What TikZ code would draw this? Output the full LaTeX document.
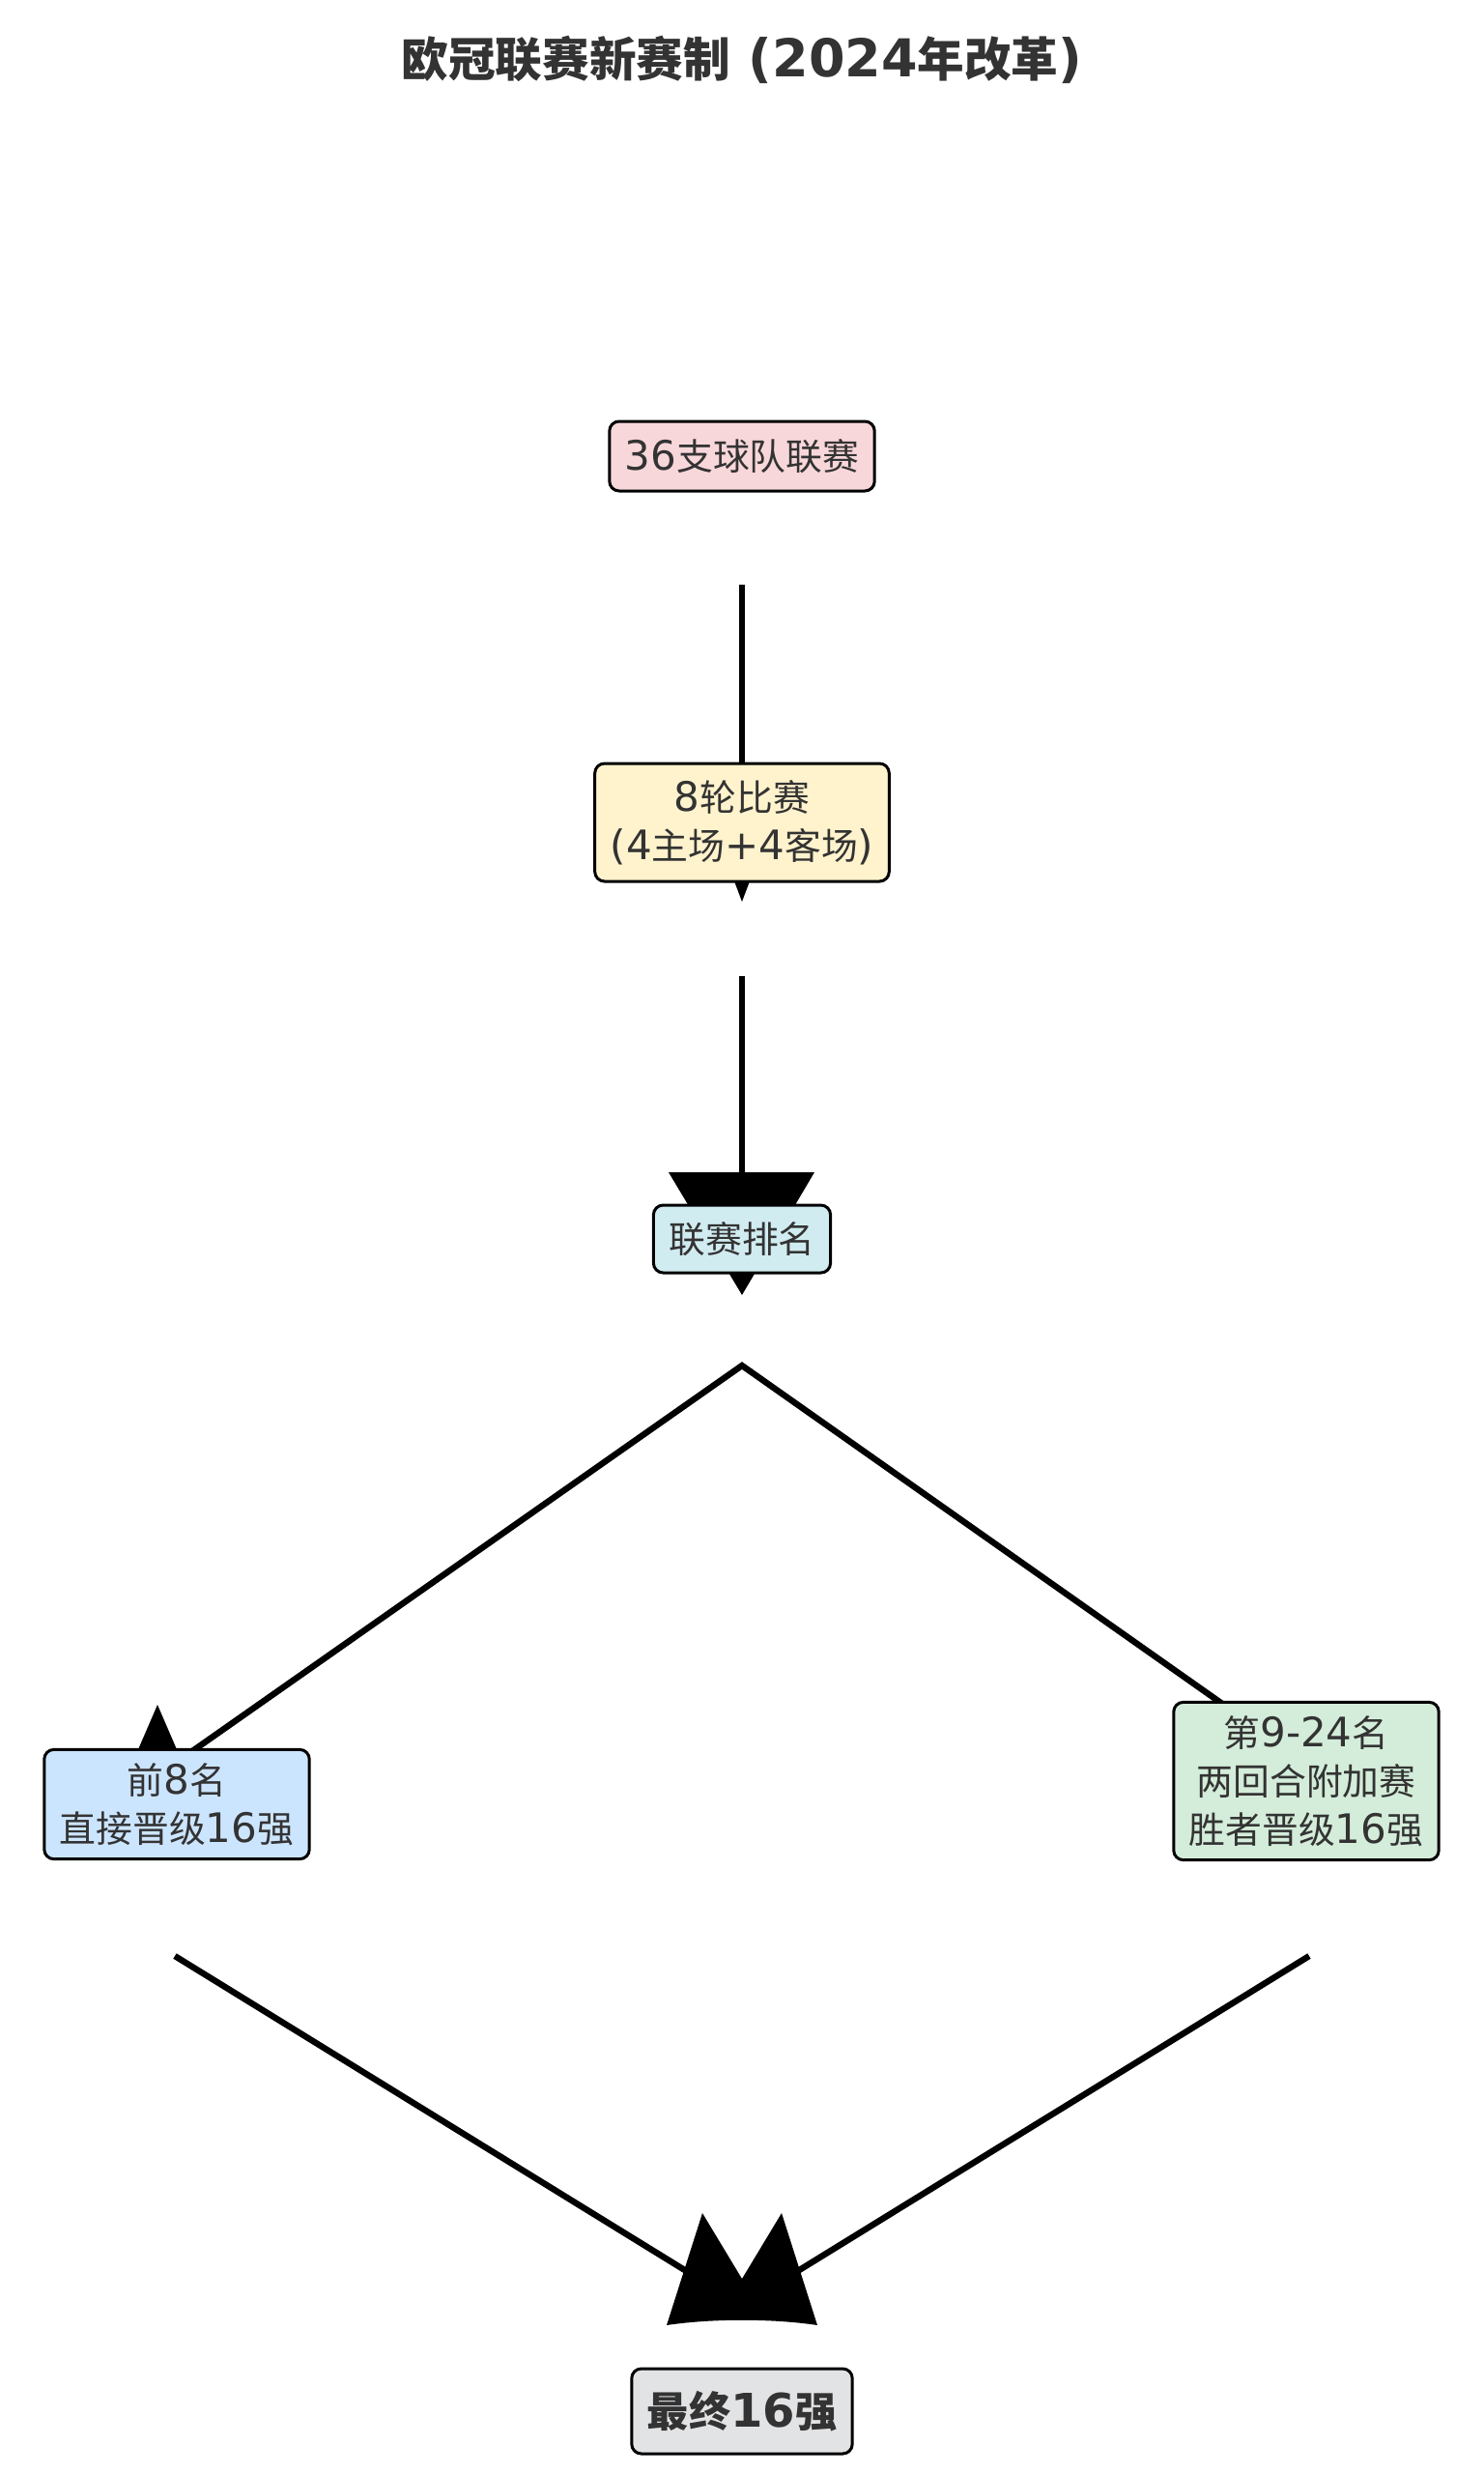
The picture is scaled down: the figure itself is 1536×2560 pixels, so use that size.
\documentclass[tikz,border=0pt]{standalone}
\usepackage{fontspec}
\setmainfont{DejaVu Sans}
\newfontfamily\cjk[Scale=0.9]{Noto Sans CJK SC}
\pgfdeclarelayer{paper}
\pgfdeclarelayer{bg}
\pgfsetlayers{paper,bg,main}
\definecolor{txt}{HTML}{333333}
\definecolor{pinkbox}{HTML}{F8D7DA}
\definecolor{yelbox}{HTML}{FFF3CD}
\definecolor{cyanbox}{HTML}{D1ECF1}
\definecolor{bluebox}{HTML}{CCE5FF}
\definecolor{greenbox}{HTML}{D4EDDA}
\definecolor{greybox}{HTML}{E2E3E5}
\begin{document}
\begin{tikzpicture}[x=0.5pt,y=-0.5pt,
  box/.style={draw=black,line width=1.5pt,rounded corners=5pt,text=txt,align=center,
    inner xsep=8pt,inner ysep=7pt,font=\fontsize{21pt}{25pt}\selectfont},
  conn/.style={line width=3.2pt,draw=black},
  head/.style={fill=black,draw=none}]
\begin{pgfonlayer}{paper}
\fill[white] (0,0) rectangle (1536,2560);
\end{pgfonlayer}
\useasboundingbox (0,0) rectangle (1536,2560);

\node[font=\bfseries\fontsize{27pt}{32pt}\selectfont,text=txt] (title) at (768,62)
  {{\cjk 欧冠联赛新赛制} (2024{\cjk 年改革})};

\node[box,fill=pinkbox,minimum height=36pt] (n1) at (768,472) {36{\cjk 支球队联赛}};
\node[box,fill=yelbox,minimum height=61pt] (n2) at (768,851) {8{\cjk 轮比赛}\\(4{\cjk 主场}+4{\cjk 客场})};
\node[box,fill=cyanbox,minimum height=35pt] (n3) at (768,1282) {{\cjk 联赛排名}};
\node[box,fill=bluebox] (n4) at (183,1867) {{\cjk 前}8{\cjk 名}\\{\cjk 直接晋级}16{\cjk 强}};
\node[box,fill=greenbox] (n5) at (1352,1843) {{\cjk 第}9-24{\cjk 名}\\{\cjk 两回合附加赛}\\{\cjk 胜者晋级}16{\cjk 强}};
\node[box,fill=greybox,minimum height=44pt,font=\bfseries\fontsize{24pt}{28pt}\selectfont] (n6) at (768,2495) {{\cjk 最终}16{\cjk 强}};

\coordinate (s1) at (768,605);
\coordinate (s2) at (768,1010);
\coordinate (ap) at (768,1413);
\coordinate (e4) at (199,1812);
\coordinate (e5) at (1268,1765);
\coordinate (b4) at (181,2024);
\coordinate (b5) at (1355,2024);
\coordinate (t1) at (712,2351);
\coordinate (t2) at (824,2351);

\begin{pgfonlayer}{bg}
  \draw[conn] (s1) -- (n2.north);
  \fill[head] (748,880) -- (788,880) -- (768,933) -- cycle;
  \draw[conn] (s2) -- (n3.north);
  \fill[head] (692,1213) -- (843,1213) -- (768,1340) -- cycle;
  \fill[head] (163,1764) -- (128,1845) -- (198,1845) -- cycle;
  \draw[conn] (e4) -- (ap) -- (e5);
  \draw[conn] (b4) -- (t1);
  \draw[conn] (b5) -- (t2);
  \fill[head] (690,2406) -- (727,2290) -- (768,2358) -- (809,2290) -- (846,2406)
    .. controls (800,2399) and (736,2399) .. (690,2406) -- cycle;
\end{pgfonlayer}
\end{tikzpicture}
\end{document}
